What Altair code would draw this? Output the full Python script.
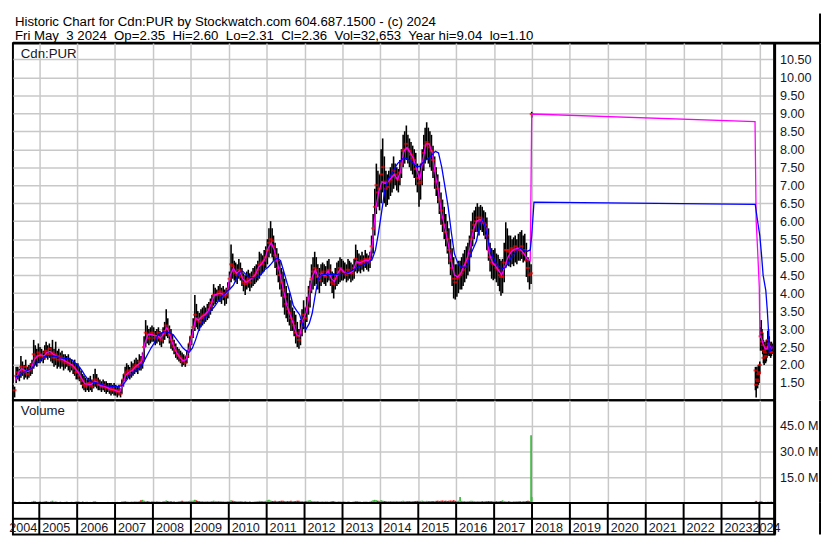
import altair as alt
import pandas as pd

# ---------------- text ----------------
header_title = "Historic Chart for Cdn:PUR by Stockwatch.com 604.687.1500 - (c) 2024"
header_info = ("Fri May\u00a0 3 2024\u00a0 Op=2.35\u00a0 Hi=2.60\u00a0 Lo=2.31\u00a0 Cl=2.36\u00a0 "
               "Vol=32,653\u00a0 Year hi=9.04\u00a0 lo=1.10")
price_panel_label = "Cdn:PUR"
volume_panel_label = "Volume"

price_ticks = [1.5, 2.0, 2.5, 3.0, 3.5, 4.0, 4.5, 5.0, 5.5, 6.0, 6.5, 7.0, 7.5, 8.0, 8.5, 9.0, 9.5, 10.0, 10.5]
volume_ticks = [15, 30, 45]          # millions
year_labels = ["2004", "2005", "2006", "2007", "2008", "2009", "2010", "2011", "2012", "2013", "2014",
               "2015", "2016", "2017", "2018", "2019", "2020", "2021", "2022", "2023", "2024"]

# ---------------- price bars (low, high, close), two per month ----------------
bars_2004 = [(1.10,1.40,1.30),(1.50,1.95,1.70),(1.60,1.95,1.80),(1.55,1.90,1.75),(1.65,2.25,1.95),(1.70,2.10,1.85),
             (1.60,2.00,1.80),(1.65,2.15,1.95),(1.60,1.95,1.75),(1.65,2.00,1.85),(1.70,2.05,1.90),(1.75,2.15,2.00),
             (1.90,2.70,2.30),(2.00,2.55,2.20),(1.95,2.45,2.25),(2.05,2.60,2.35)]
bars_2005 = [(2.05,2.50,2.30),(2.10,2.45,2.25),(2.05,2.40,2.20),(2.15,2.55,2.35),(2.20,2.65,2.40),(2.15,2.55,2.30),
             (2.20,2.60,2.45),(2.10,2.50,2.30),(2.05,2.70,2.35),(1.95,2.45,2.20),(2.00,2.65,2.30),(1.90,2.40,2.15),
             (1.95,2.45,2.25),(1.90,2.35,2.15),(1.95,2.40,2.20),(1.85,2.30,2.10),(1.90,2.30,2.05),(1.95,2.25,2.10),
             (1.85,2.30,2.05),(1.80,2.20,2.00),(1.85,2.15,2.00),(1.75,2.10,1.95),(1.70,2.15,1.90),(1.60,2.05,1.80)]
bars_2006 = [(1.60,2.05,1.80),(1.55,1.95,1.70),(1.45,1.85,1.60),(1.35,1.75,1.55),(1.30,1.70,1.45),(1.25,1.65,1.40),
             (1.30,1.60,1.45),(1.25,1.65,1.50),(1.30,1.70,1.50),(1.25,1.60,1.40),(1.35,1.75,1.55),(1.40,1.90,1.60),
             (1.35,1.75,1.55),(1.30,1.65,1.45),(1.30,1.60,1.45),(1.25,1.55,1.40),(1.30,1.60,1.45),(1.25,1.55,1.40),
             (1.20,1.55,1.35),(1.25,1.50,1.40),(1.20,1.50,1.35),(1.15,1.50,1.30),(1.20,1.45,1.35),(1.15,1.50,1.30)]
bars_2007 = [(1.15,1.45,1.30),(1.10,1.40,1.25),(1.15,1.45,1.30),(1.10,1.35,1.20),(1.20,1.60,1.45),(1.40,1.75,1.60),
             (1.55,1.95,1.75),(1.60,2.05,1.80),(1.65,2.00,1.85),(1.60,1.95,1.75),(1.65,2.10,1.85),(1.70,2.05,1.90),
             (1.75,2.15,1.95),(1.80,2.20,2.00),(1.75,2.15,1.95),(1.85,2.30,2.10),(1.85,2.25,2.05),(1.90,2.35,2.15),
             (2.10,2.80,2.50),(2.50,3.25,2.90),(2.60,3.10,2.85),(2.55,3.00,2.75),(2.60,3.05,2.85),(2.65,3.10,2.90)]
bars_2008 = [(2.65,3.05,2.85),(2.55,2.95,2.75),(2.60,3.00,2.80),(2.65,3.05,2.90),(2.55,2.95,2.75),(2.50,2.90,2.70),
             (2.60,3.05,2.85),(2.70,3.20,2.95),(2.80,3.55,3.10),(2.75,3.30,3.00),(2.60,3.10,2.85),(2.45,3.00,2.70),
             (2.40,2.85,2.60),(2.30,2.70,2.50),(2.20,2.60,2.40),(2.15,2.50,2.30),(2.10,2.45,2.25),(2.05,2.40,2.20),
             (1.95,2.35,2.10),(2.00,2.30,2.15),(1.95,2.25,2.05),(2.05,2.40,2.25),(2.20,2.60,2.40),(2.40,2.80,2.60)]
bars_2009 = [(2.55,3.00,2.80),(2.75,3.30,3.05),(2.95,3.95,3.40),(3.05,3.70,3.30),(3.00,3.50,3.25),(2.95,3.45,3.20),
             (3.05,3.55,3.30),(3.10,3.60,3.35),(3.15,3.65,3.40),(3.20,3.60,3.40),(3.25,3.70,3.45),(3.30,3.75,3.55),
             (3.40,3.85,3.65),(3.50,3.95,3.75),(3.65,4.25,3.95),(3.70,4.15,3.95),(3.75,4.10,3.95),(3.80,4.20,4.00),
             (3.75,4.25,4.05),(3.70,4.15,3.95),(3.80,4.20,4.00),(3.65,4.10,3.90),(3.70,4.15,3.95),(3.85,4.30,4.10)]
bars_2010 = [(4.10,4.60,4.40),(4.30,5.35,4.80),(4.40,5.10,4.75),(4.35,4.90,4.60),(4.30,4.85,4.55),(4.25,4.80,4.50),
             (4.40,4.95,4.65),(4.35,4.85,4.60),(4.20,4.70,4.45),(4.05,4.55,4.30),(3.95,4.50,4.25),(4.10,4.60,4.35),
             (4.15,4.65,4.40),(4.05,4.55,4.30),(4.15,4.60,4.40),(4.20,4.70,4.45),(4.25,4.75,4.50),(4.30,4.80,4.55),
             (4.35,4.90,4.65),(4.40,5.15,4.80),(4.50,5.10,4.85),(4.55,5.05,4.80),(4.60,5.20,4.90),(4.70,5.30,5.00)]
bars_2011 = [(4.80,5.50,5.20),(5.00,5.80,5.40),(5.10,6.00,5.50),(5.00,5.80,5.45),(4.90,5.60,5.30),(4.70,5.40,5.05),
             (4.50,5.25,4.90),(4.30,5.10,4.70),(4.10,4.90,4.50),(3.90,4.70,4.30),(3.60,4.60,4.10),(3.40,4.40,3.90),
             (3.30,4.20,3.70),(3.20,4.00,3.55),(3.10,4.00,3.45),(2.95,3.80,3.30),(2.95,3.60,3.20),(2.80,3.50,3.10),
             (2.60,3.40,2.90),(2.50,3.20,2.80),(2.45,3.00,2.70),(2.55,3.25,2.90),(2.80,3.55,3.20),(3.00,3.80,3.40)]
bars_2012 = [(2.90,3.60,3.30),(3.20,3.90,3.60),(3.40,4.20,3.85),(3.60,4.35,4.10),(4.00,4.80,4.40),(4.10,5.00,4.60),
             (4.20,5.15,4.70),(4.25,5.00,4.65),(4.10,4.80,4.45),(4.00,4.70,4.35),(4.20,4.80,4.55),(4.30,4.85,4.60),
             (4.25,4.80,4.50),(4.20,4.75,4.45),(4.30,4.90,4.60),(4.35,4.95,4.65),(4.20,4.80,4.50),(4.00,4.60,4.30),
             (3.85,4.55,4.25),(4.10,4.70,4.40),(4.20,4.85,4.50),(4.25,4.90,4.60),(4.30,5.00,4.70),(4.35,4.95,4.65)]
bars_2013 = [(4.35,4.90,4.60),(4.40,4.85,4.55),(4.30,4.80,4.50),(4.35,4.95,4.65),(4.40,4.90,4.60),(4.30,4.85,4.55),
             (4.35,4.80,4.55),(4.40,4.95,4.70),(4.60,5.35,4.95),(4.55,5.20,4.85),(4.60,5.10,4.85),(4.55,5.05,4.80),
             (4.65,5.15,4.90),(4.60,5.05,4.85),(4.70,5.20,4.95),(4.65,5.10,4.90),(4.60,5.05,4.85),(4.70,5.15,4.95),
             (4.90,5.60,5.30),(5.10,6.20,5.80),(5.60,6.90,6.40),(6.20,7.60,7.00),(6.40,7.40,6.80),(6.30,7.30,6.90)]
bars_2014 = [(6.50,8.00,7.30),(6.80,8.30,7.50),(6.50,7.80,7.10),(6.40,7.40,6.90),(6.45,7.30,6.95),(6.60,7.40,7.10),
             (6.70,7.50,7.15),(6.80,7.60,7.25),(6.90,7.80,7.40),(7.00,7.60,7.30),(6.85,7.50,7.20),(6.80,7.45,7.15),
             (7.00,7.70,7.35),(7.20,8.00,7.60),(7.50,8.40,7.95),(7.60,8.50,8.00),(7.70,8.66,8.15),(7.60,8.40,8.00),
             (7.50,8.30,7.95),(7.40,8.20,7.85),(7.30,8.10,7.75),(7.20,8.00,7.70),(7.00,7.90,7.45),(6.80,7.60,7.20)]
bars_2015 = [(6.40,7.40,7.05),(6.60,7.60,7.10),(7.00,8.00,7.60),(7.40,8.40,7.90),(7.60,8.60,8.10),(7.70,8.75,8.20),
             (7.60,8.60,8.15),(7.50,8.50,8.05),(7.40,8.40,7.95),(7.20,8.10,7.70),(6.90,7.80,7.40),(6.70,7.50,7.10),
             (6.50,7.30,6.90),(6.20,7.10,6.60),(5.90,6.80,6.30),(5.70,6.60,6.10),(5.50,6.40,5.90),(5.30,6.20,5.70),
             (5.10,6.00,5.50),(4.80,5.80,5.20),(4.50,5.50,4.90),(4.20,5.25,4.70),(3.85,5.00,4.40),(3.82,4.80,4.30)]
bars_2016 = [(3.90,4.80,4.40),(4.00,4.90,4.45),(4.10,4.90,4.50),(4.10,5.00,4.55),(4.20,5.10,4.65),(4.30,5.20,4.75),
             (4.40,5.30,4.85),(4.50,5.40,4.95),(4.60,5.60,5.10),(5.00,6.00,5.50),(5.30,6.24,5.75),(5.50,6.30,5.90),
             (5.70,6.40,6.00),(5.70,6.50,6.10),(5.60,6.40,6.00),(5.75,6.45,6.10),(5.70,6.40,6.05),(5.60,6.30,5.95),
             (5.50,6.25,5.90),(5.20,6.10,5.60),(4.90,5.80,5.20),(4.60,5.40,5.00),(4.40,5.25,4.85),(4.36,5.20,4.80)]
bars_2017 = [(4.40,5.25,4.80),(4.30,5.10,4.70),(4.20,5.07,4.65),(4.05,4.95,4.50),(3.93,4.90,4.45),(4.00,4.95,4.45),
             (4.30,5.40,4.85),(4.70,5.97,5.20),(4.80,5.80,5.20),(4.75,5.60,5.15),(4.72,5.60,5.20),(4.80,5.50,5.25),
             (4.75,5.55,5.20),(4.85,5.60,5.30),(4.80,5.50,5.20),(4.90,5.65,5.25),(4.90,5.70,5.20),(4.95,5.75,5.30),
             (4.85,5.60,5.10),(4.90,5.65,5.20),(4.45,5.40,4.90),(4.30,5.00,4.70),(4.10,4.90,4.50),(4.25,4.80,4.55)]
bar_late_2017_date = "2017-12-29"
bar_late_2017 = (8.88, 9.04, 8.98)

recent_dates = ["2023-11-24","2023-12-01","2023-12-08","2023-12-15","2023-12-22","2023-12-29",
                "2024-01-05","2024-01-12","2024-01-19","2024-01-26","2024-02-02","2024-02-09",
                "2024-02-16","2024-02-23","2024-03-01","2024-03-08","2024-03-15","2024-03-22",
                "2024-03-29","2024-04-05","2024-04-12","2024-04-19","2024-04-26","2024-05-03"]
bars_recent = [(1.30,1.95,1.85),(1.10,1.90,1.45),(1.40,1.95,1.60),(1.35,1.80,1.55),(1.45,2.00,1.75),(1.50,1.95,1.80),
               (1.75,2.10,2.00),(2.40,3.05,2.80),(2.50,3.25,2.90),(2.40,3.00,2.65),(2.30,2.90,2.55),(2.05,2.70,2.20),
               (2.00,2.60,2.40),(2.15,2.65,2.35),(2.05,2.55,2.25),(2.10,2.70,2.45),(2.20,2.65,2.50),(2.25,2.95,2.70),
               (2.30,3.00,2.60),(2.25,2.80,2.50),(2.30,2.65,2.45),(2.20,2.60,2.35),(2.25,2.65,2.50),(2.31,2.60,2.36)]

# ---------------- volume (millions) ----------------
vol_2004 = [0.9,0.6,0.5,0.7,0.6,0.4,0.5,0.6,0.4,0.5,0.5,0.8,1.2,0.9,0.6,0.7]
vol_2005 = [0.8,0.6,0.7,0.9,1.1,0.7,0.6,0.8,1.3,0.7,0.9,0.6,0.5,0.7,0.6,0.5,0.6,0.8,0.5,0.6,0.7,0.5,0.6,0.8]
vol_2006 = [0.9,0.7,0.6,0.8,0.5,0.6,0.7,0.5,0.6,0.5,0.9,1.0,0.6,0.5,0.4,0.5,0.6,0.4,0.5,0.6,0.4,0.5,0.6,0.5]
vol_2007 = [0.5,0.6,0.4,0.5,0.8,0.9,1.1,0.8,0.7,0.6,0.8,0.7,0.9,0.8,0.7,1.0,1.6,1.8,1.2,0.9,1.0,0.8,0.7,0.9]
vol_2008 = [0.8,0.7,0.9,0.8,0.7,0.6,0.9,1.0,1.4,1.1,0.8,0.9,0.7,0.8,0.6,0.7,0.8,0.9,1.2,1.0,0.8,0.9,1.1,1.3]
vol_2009 = [1.2,1.4,1.9,1.5,1.1,1.0,0.9,1.0,0.8,0.9,1.0,0.8,0.9,1.1,1.3,1.0,0.9,1.1,1.0,0.8,0.9,0.7,0.8,1.0]
vol_2010 = [1.1,1.6,1.3,1.0,0.9,0.8,1.0,0.9,0.8,0.7,0.9,0.8,0.7,0.8,0.6,0.7,0.8,0.9,1.0,1.2,1.1,0.9,1.0,1.2]
vol_2011 = [1.5,1.9,1.4,1.1,1.0,1.2,0.9,1.0,1.1,1.3,1.2,1.0,0.9,1.1,1.0,1.2,0.9,1.0,1.1,1.3,1.2,1.0,1.1,0.9]
vol_2012 = [1.0,1.2,1.4,1.6,1.1,0.9,1.0,0.8,0.9,0.7,0.8,0.9,0.7,0.8,0.9,0.7,0.8,0.9,1.0,0.8,0.7,0.9,0.8,0.7]
vol_2013 = [0.8,0.7,0.6,0.8,0.7,0.6,0.7,0.8,1.1,0.9,0.8,0.7,0.6,0.7,0.8,0.7,0.6,0.8,1.2,1.5,1.8,1.6,1.3,1.2]
vol_2014 = [1.5,1.3,1.1,1.0,0.9,1.0,1.1,0.9,1.0,0.8,0.9,0.8,0.9,1.1,1.2,1.0,1.1,0.9,1.0,0.8,0.9,1.0,1.1,1.2]
vol_2015 = [1.0,1.2,1.3,1.1,1.0,1.2,1.0,0.9,1.0,1.1,0.9,1.2,1.3,1.1,1.2,1.4,1.2,1.3,1.1,1.2,1.4,1.3,1.6,1.2]
vol_2016 = [1.1,1.3,3.5,1.2,1.0,1.1,0.9,1.0,1.1,1.3,1.2,1.0,0.9,1.0,0.8,0.9,1.0,0.8,0.9,1.0,1.1,0.9,1.0,0.8]
vol_2017 = [0.9,1.0,0.8,0.9,1.1,1.5,1.0,0.9,0.8,0.9,0.8,0.7,0.8,0.9,0.8,1.0,0.9,0.8,0.9,1.0,1.1,1.3,1.0,39.5]
vol_late_2017 = 3.5
vol_recent = [0.8,1.2,0.7,0.6,0.5,0.6,0.9,1.1,0.8,0.7,0.6,0.5,0.6,0.5,0.6,0.5,0.6,0.7,0.5,0.6,0.5,0.6,0.8,0.5]

# ---------------- moving averages, read monthly (15th) ----------------
ma_short_2004 = [1.55,1.80,1.90,1.85,1.82,1.90,2.15,2.25]
ma_short_2005 = [2.28,2.25,2.35,2.38,2.30,2.25,2.20,2.15,2.10,2.05,2.00,1.90]
ma_short_2006 = [1.78,1.62,1.48,1.47,1.45,1.55,1.52,1.42,1.42,1.38,1.33,1.32]
ma_short_2007 = [1.28,1.25,1.45,1.72,1.80,1.85,1.95,2.02,2.10,2.60,2.85,2.85]
ma_short_2008 = [2.82,2.82,2.75,2.88,3.05,2.80,2.55,2.35,2.22,2.12,2.15,2.45]
ma_short_2009 = [2.85,3.30,3.25,3.35,3.40,3.50,3.70,3.95,3.98,4.00,3.95,4.00]
ma_short_2010 = [4.50,4.70,4.55,4.62,4.40,4.30,4.35,4.42,4.52,4.72,4.82,4.95]
ma_short_2011 = [5.25,5.40,5.20,4.85,4.45,4.05,3.65,3.40,3.15,2.85,2.80,3.25]
ma_short_2012 = [3.45,3.95,4.45,4.65,4.40,4.55,4.48,4.62,4.40,4.32,4.55,4.68]
ma_short_2013 = [4.58,4.55,4.56,4.62,4.88,4.84,4.88,4.92,4.90,5.35,6.30,6.80]
ma_short_2014 = [7.10,7.05,7.10,7.20,7.30,7.15,7.40,7.95,8.05,7.90,7.75,7.45]
ma_short_2015 = [7.15,7.70,8.15,8.15,7.90,7.30,6.80,6.20,5.80,5.40,4.90,4.50]
ma_short_2016 = [4.45,4.55,4.75,4.95,5.30,5.75,6.00,6.05,6.00,5.80,5.10,4.85]
ma_short_2017 = [4.75,4.62,4.50,4.75,5.00,5.15,5.22,5.25,5.20,5.10,4.95,4.90]
ma_short_tail_dates = ["2017-12-29","2023-11-20","2023-12-01","2023-12-15","2023-12-31","2024-01-06",
                       "2024-01-20","2024-02-05","2024-02-25","2024-03-15","2024-04-01","2024-04-15","2024-05-03"]
ma_short_tail = [8.98, 8.77, 6.00, 5.20, 4.16, 2.80, 2.75, 2.60, 2.45, 2.45, 2.60, 2.50, 2.45]

ma_long_2004 = [1.66,1.70,1.76,1.82,1.86,1.90,1.98,2.08]
ma_long_2005 = [2.14,2.22,2.26,2.26,2.25,2.24,2.20,2.19,2.18,2.17,2.14,2.05]
ma_long_2006 = [1.97,1.85,1.72,1.60,1.54,1.52,1.50,1.47,1.44,1.42,1.41,1.41]
ma_long_2007 = [1.41,1.41,1.44,1.55,1.68,1.76,1.84,1.90,1.98,2.15,2.32,2.48]
ma_long_2008 = [2.62,2.82,2.88,2.92,2.92,2.89,2.84,2.72,2.60,2.48,2.40,2.36]
ma_long_2009 = [2.47,2.70,2.95,3.15,3.30,3.42,3.52,3.62,3.75,3.87,3.96,4.05]
ma_long_2010 = [4.12,4.22,4.40,4.58,4.61,4.52,4.43,4.43,4.43,4.45,4.55,4.66]
ma_long_2011 = [4.72,4.82,4.92,4.97,4.90,4.60,4.30,4.00,3.65,3.52,3.40,3.10]
ma_long_2012 = [3.00,3.15,3.44,3.98,4.43,4.52,4.52,4.52,4.52,4.52,4.52,4.54]
ma_long_2013 = [4.54,4.56,4.60,4.65,4.70,4.75,4.78,4.82,4.88,4.95,5.20,5.70]
ma_long_2014 = [6.30,6.90,7.15,7.30,7.45,7.60,7.68,7.76,7.74,7.68,7.60,7.52]
ma_long_2015 = [7.52,7.63,7.70,7.76,7.85,7.94,7.90,7.50,6.96,6.42,5.70,5.10]
ma_long_2016 = [4.85,4.72,4.72,4.72,5.05,5.25,5.45,5.90,6.06,5.75,5.30,5.05]
ma_long_2017 = [4.85,4.75,4.68,4.70,4.82,5.00,5.10,5.20,5.25,5.18,5.16,5.20]
ma_long_tail_dates = ["2017-12-29","2018-01-20","2023-11-22","2023-12-05","2023-12-20","2024-01-05",
                      "2024-01-22","2024-02-06","2024-03-03","2024-03-17","2024-03-28","2024-04-05",
                      "2024-04-16","2024-04-27","2024-05-03"]
ma_long_tail = [5.60, 6.53, 6.47, 6.20, 5.90, 5.60, 5.05, 4.50, 4.07, 3.53, 3.00, 2.37, 2.40, 2.55, 2.50]

# ---------------- assemble tables ----------------
yearly_bars = [(2004, 5, bars_2004, vol_2004), (2005, 1, bars_2005, vol_2005), (2006, 1, bars_2006, vol_2006),
               (2007, 1, bars_2007, vol_2007), (2008, 1, bars_2008, vol_2008), (2009, 1, bars_2009, vol_2009),
               (2010, 1, bars_2010, vol_2010), (2011, 1, bars_2011, vol_2011), (2012, 1, bars_2012, vol_2012),
               (2013, 1, bars_2013, vol_2013), (2014, 1, bars_2014, vol_2014), (2015, 1, bars_2015, vol_2015),
               (2016, 1, bars_2016, vol_2016), (2017, 1, bars_2017, vol_2017)]
rows = []
for year, m0, bars, vols in yearly_bars:
    dates = []
    for m in range(m0, 13):
        dates += [f"{year}-{m:02d}-08", f"{year}-{m:02d}-23"]
    for d, (lo, hi, cl), v in zip(dates, bars, vols):
        rows.append({"date": d, "low": lo, "high": hi, "close": cl, "vol": v})
rows.append({"date": bar_late_2017_date, "low": bar_late_2017[0], "high": bar_late_2017[1],
             "close": bar_late_2017[2], "vol": vol_late_2017})
for d, (lo, hi, cl), v in zip(recent_dates, bars_recent, vol_recent):
    rows.append({"date": d, "low": lo, "high": hi, "close": cl, "vol": v})
bars_df = pd.DataFrame(rows)
bars_df["dir"] = ["up" if i == 0 or c >= p else "down"
                  for i, (c, p) in enumerate(zip(bars_df["close"], bars_df["close"].shift(1)))]
bars_df["base"] = 0.0


def ma_table(series_by_year, tail_dates, tail_vals):
    out = []
    for year, m0, vals in series_by_year:
        for m, v in zip(range(m0, 13), vals):
            out.append({"date": f"{year}-{m:02d}-15", "ma": v})
    for d, v in zip(tail_dates, tail_vals):
        out.append({"date": d, "ma": v})
    return pd.DataFrame(out)


short_df = ma_table([(2004, 5, ma_short_2004), (2005, 1, ma_short_2005), (2006, 1, ma_short_2006),
                     (2007, 1, ma_short_2007), (2008, 1, ma_short_2008), (2009, 1, ma_short_2009),
                     (2010, 1, ma_short_2010), (2011, 1, ma_short_2011), (2012, 1, ma_short_2012),
                     (2013, 1, ma_short_2013), (2014, 1, ma_short_2014), (2015, 1, ma_short_2015),
                     (2016, 1, ma_short_2016), (2017, 1, ma_short_2017)], ma_short_tail_dates, ma_short_tail)
long_df = ma_table([(2004, 5, ma_long_2004), (2005, 1, ma_long_2005), (2006, 1, ma_long_2006),
                    (2007, 1, ma_long_2007), (2008, 1, ma_long_2008), (2009, 1, ma_long_2009),
                    (2010, 1, ma_long_2010), (2011, 1, ma_long_2011), (2012, 1, ma_long_2012),
                    (2013, 1, ma_long_2013), (2014, 1, ma_long_2014), (2015, 1, ma_long_2015),
                    (2016, 1, ma_long_2016), (2017, 1, ma_long_2017)], ma_long_tail_dates, ma_long_tail)

# ---------------- layout / style ----------------
W, AX = 772, 46
HH, HP, HV, HB = 30, 362, 104, 32
FONT = "Liberation Sans"
GRID = "#c8c8c8"
INK = "#161628"
GREEN = "#3cb83c"
RED = "#ff0000"

x_domain = [alt.DateTime(year=2004, month=4, date=22), alt.DateTime(year=2024, month=5, date=27)]
year_lines = [alt.DateTime(year=int(y), month=1, date=1) for y in year_labels[1:]]
xscale = alt.Scale(domain=x_domain)
x_axis = alt.Axis(values=year_lines, grid=True, gridColor=GRID, gridWidth=1.5, labels=False,
                  ticks=False, domain=False, title=None)


def X(field="date"):
    return alt.X(f"{field}:T", scale=xscale, axis=x_axis)


p_scale = alt.Scale(domain=[1.02, 10.95], nice=False, zero=False)
p_axis = alt.Axis(orient="right", values=price_ticks, format=".2f", grid=True, gridColor=GRID,
                  gridWidth=1.5, ticks=False, domain=False, labelPadding=5, labelFont=FONT,
                  labelFontSize=12.8, labelColor=INK, title=None)


def YP(field):
    return alt.Y(f"{field}:Q", scale=p_scale, axis=p_axis)


one = pd.DataFrame({"k": [0]})


def vline(x, h, w=2):
    return alt.Chart(one).mark_rule(color="black", strokeWidth=w).encode(
        x=alt.value(x), y=alt.value(0), y2=alt.value(h))


# header
head1 = alt.Chart(pd.DataFrame({"t": [header_title]})).mark_text(
    align="left", baseline="alphabetic", font=FONT, fontSize=13.4, color="#000000"
).encode(x=alt.value(2), y=alt.value(13), text="t:N")
head2 = alt.Chart(pd.DataFrame({"t": [header_info]})).mark_text(
    align="left", baseline="alphabetic", font=FONT, fontSize=13.4, color="#000000"
).encode(x=alt.value(2), y=alt.value(27), text="t:N")
head_rule = alt.Chart(one).mark_rule(color="black", strokeWidth=3).encode(
    x=alt.value(0), x2=alt.value(W + AX), y=alt.value(HH))
header = alt.layer(head1, head2, head_rule, vline(W + AX, HH)).properties(
    width=W + AX, height=HH, view=alt.ViewBackground(stroke="transparent"))

# price panel
price_bars = alt.Chart(bars_df).mark_rule(color="#000000", strokeWidth=1.6).encode(
    x=X(), y=YP("low"), y2="high:Q")
close_ticks = alt.Chart(bars_df).mark_tick(color=RED, orient="horizontal", size=4, thickness=2).encode(
    x=X(), y=YP("close"))
short_line = alt.Chart(short_df).mark_line(color="#ff00ff", strokeWidth=1.3).encode(x=X(), y=YP("ma"))
long_line = alt.Chart(long_df).mark_line(color="#0000ff", strokeWidth=1.3).encode(x=X(), y=YP("ma"))
price_label = alt.Chart(pd.DataFrame({"t": [price_panel_label]})).mark_text(
    align="left", baseline="alphabetic", font=FONT, fontSize=13.4, color=INK
).encode(x=alt.value(8), y=alt.value(15), text="t:N")
price = alt.layer(price_bars, close_ticks, short_line, long_line, price_label,
                  vline(W, HP, 3), vline(W + AX, HP)).properties(
    width=W, height=HP, view=alt.ViewBackground(stroke="black", strokeWidth=2))

# volume panel
v_scale = alt.Scale(domain=[0, 60], nice=False, zero=True)
v_axis = alt.Axis(orient="right", values=volume_ticks, labelExpr="format(datum.value, '.1f') + ' M'",
                  grid=True, gridColor=GRID, gridWidth=1.5, ticks=False, domain=False, labelPadding=5,
                  labelFont=FONT, labelFontSize=12.8, labelColor=INK, title=None)
vol_bars = alt.Chart(bars_df).mark_rule(strokeWidth=1.7).encode(
    x=X(), y=alt.Y("vol:Q", scale=v_scale, axis=v_axis), y2="base:Q",
    color=alt.Color("dir:N", scale=alt.Scale(domain=["up", "down"], range=[GREEN, RED]), legend=None))
vol_label = alt.Chart(pd.DataFrame({"t": [volume_panel_label]})).mark_text(
    align="left", baseline="alphabetic", font=FONT, fontSize=13.4, color=INK
).encode(x=alt.value(8), y=alt.value(15), text="t:N")
volume = alt.layer(vol_bars, vol_label, vline(W, HV, 3), vline(W + AX, HV)).properties(
    width=W, height=HV, view=alt.ViewBackground(stroke="black", strokeWidth=2))

# bottom rows with year labels
bx = alt.X("date:T", scale=xscale, axis=None)
bounds_df = pd.DataFrame({"date": [f"{y}-01-01" for y in year_labels[1:]]})
year_rules = alt.Chart(bounds_df).mark_rule(color="black", strokeWidth=2).encode(x=bx)
mid_rule = alt.Chart(one).mark_rule(color="black", strokeWidth=2).encode(
    x=alt.value(0), x2=alt.value(W), y=alt.value(HB / 2))
first_lab = alt.Chart(pd.DataFrame({"date": ["2005-01-01"], "label": [year_labels[0]]})).mark_text(
    align="right", baseline="alphabetic", dx=-2, font=FONT, fontSize=12.8, color=INK
).encode(x=bx, y=alt.value(HB - 3), text="label:N")
mid_lab = alt.Chart(pd.DataFrame({"date": [f"{y}-01-01" for y in year_labels[1:-1]],
                                  "label": year_labels[1:-1]})).mark_text(
    align="left", baseline="alphabetic", dx=3, font=FONT, fontSize=12.8, color=INK
).encode(x=bx, y=alt.value(HB - 3), text="label:N")
last_lab = alt.Chart(pd.DataFrame({"date": ["2024-01-01"], "label": [year_labels[-1]]})).mark_text(
    align="left", baseline="alphabetic", dx=-7, font=FONT, fontSize=12.8, color=INK
).encode(x=bx, y=alt.value(HB - 3), text="label:N")
bottom = alt.layer(year_rules, mid_rule, first_lab, mid_lab, last_lab, vline(W, HB, 3),
                   vline(W + AX, HB)).properties(
    width=W, height=HB, view=alt.ViewBackground(stroke="black", strokeWidth=2))

chart = alt.vconcat(header, price, volume, bottom, spacing=0, bounds="flush").properties(
    padding={"left": 0, "top": 0, "right": 0, "bottom": 0}
).configure(font=FONT)

chart.save("out.html", embed_options={"renderer": "svg", "actions": False})
